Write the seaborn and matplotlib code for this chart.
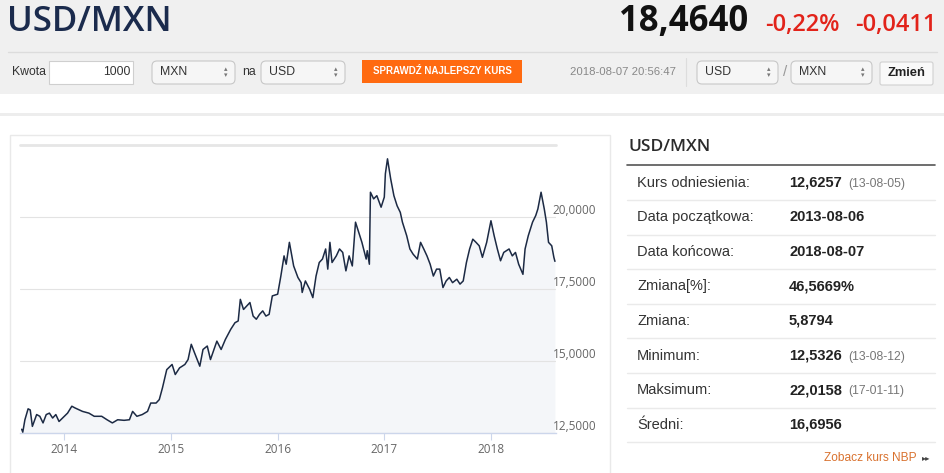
import pandas as pd
import matplotlib.pyplot as plt
import seaborn as sns
from matplotlib.patches import Rectangle, FancyBboxPatch
from matplotlib import transforms

sns.set_theme(style="white")
plt.rcParams['font.family'] = ['Liberation Sans', 'DejaVu Sans']

# kurs USD/MXN (rok dziesietny, kurs)
years = [
    2013.60, 2013.61, 2013.63, 2013.66, 2013.68, 2013.70, 2013.74, 2013.77, 2013.80, 2013.83, 2013.86, 2013.89, 2013.92, 2013.95,
    2014.00, 2014.03, 2014.07, 2014.10, 2014.17, 2014.23, 2014.28, 2014.35, 2014.40, 2014.45, 2014.50, 2014.56, 2014.61, 2014.64,
    2014.68, 2014.73, 2014.78, 2014.81, 2014.86, 2014.89, 2014.92, 2014.96,
    2015.01, 2015.04, 2015.08, 2015.13, 2015.16, 2015.19, 2015.22, 2015.27, 2015.30, 2015.34, 2015.37, 2015.43, 2015.47, 2015.51,
    2015.56, 2015.60, 2015.63, 2015.65, 2015.68, 2015.71, 2015.74, 2015.77, 2015.80, 2015.83, 2015.86, 2015.89, 2015.92, 2015.95,
    2016.00, 2016.03, 2016.06, 2016.08, 2016.11, 2016.15, 2016.19, 2016.22, 2016.23, 2016.26, 2016.30, 2016.33, 2016.36, 2016.39,
    2016.42, 2016.45, 2016.47, 2016.49, 2016.51, 2016.55, 2016.58, 2016.61, 2016.64, 2016.67, 2016.70, 2016.73, 2016.76, 2016.79,
    2016.83, 2016.84, 2016.86, 2016.87, 2016.90, 2016.93, 2016.97,
    2017.00, 2017.01, 2017.03, 2017.06, 2017.09, 2017.12, 2017.15, 2017.17, 2017.21, 2017.24, 2017.27, 2017.31, 2017.34, 2017.37,
    2017.40, 2017.43, 2017.46, 2017.49, 2017.52, 2017.55, 2017.58, 2017.61, 2017.64, 2017.68, 2017.71, 2017.74, 2017.77, 2017.80,
    2017.83, 2017.86, 2017.89, 2017.92, 2017.96,
    2018.00, 2018.03, 2018.06, 2018.09, 2018.12, 2018.17, 2018.20, 2018.23, 2018.26, 2018.30, 2018.32, 2018.35, 2018.39, 2018.42,
    2018.44, 2018.47, 2018.50, 2018.52, 2018.54, 2018.57, 2018.59, 2018.60,
]
rates = [
    12.63, 12.53, 12.96, 13.34, 13.30, 12.73, 13.14, 13.08, 12.85, 13.14, 13.19, 13.02, 13.14, 12.90,
    13.08, 13.19, 13.43, 13.37, 13.25, 13.19, 13.08, 13.08, 12.96, 12.85, 12.96, 12.94, 12.96, 13.25,
    13.08, 13.14, 13.25, 13.54, 13.54, 13.66, 14.07, 14.70,
    14.88, 14.53, 14.76, 14.88, 15.05, 15.58, 15.29, 14.82, 15.40, 15.52, 15.05, 15.69, 15.40, 15.75,
    16.10, 16.33, 16.39, 17.14, 16.79, 16.91, 17.03, 16.56, 16.45, 16.62, 16.74, 16.56, 16.62, 17.26,
    17.32, 17.95, 18.65, 18.36, 19.12, 18.30, 17.90, 17.72, 17.38, 17.78, 17.49, 17.20, 17.95, 18.42,
    18.54, 18.89, 18.19, 19.12, 18.42, 18.65, 18.89, 18.77, 18.13, 18.65, 18.30, 19.82, 19.47, 19.12,
    18.54, 18.83, 18.36, 20.86, 20.63, 20.74, 20.34,
    20.69, 21.50, 22.02, 21.32, 20.74, 20.39, 20.16, 19.82, 19.35, 18.89, 18.71, 18.54, 19.12, 18.89,
    18.65, 18.36, 17.95, 18.19, 18.19, 17.55, 17.78, 17.90, 17.72, 17.84, 17.67, 17.78, 18.42, 18.89,
    19.23, 19.12, 19.00, 18.60, 19.12,
    19.87, 19.35, 18.89, 18.48, 18.77, 18.89, 18.65, 18.77, 18.36, 18.01, 18.89, 19.35, 19.82, 20.05,
    20.28, 20.86, 20.28, 19.82, 19.12, 19.00, 18.60, 18.46,
]
df = pd.DataFrame({"rok": years, "kurs": rates})

y_ticks = [12.5, 15.0, 17.5, 20.0, 22.5]
y_tick_labels = ["12,5000", "15,0000", "17,5000", "20,0000", ""]
x_ticks = [2014, 2015, 2016, 2017, 2018]
x_tick_labels = ["2014", "2015", "2016", "2017", "2018"]

pair = "USD/MXN"
last_rate = "18,4640"
change_pct = "-0,22%"
change_abs = "-0,0411"
timestamp = "2018-08-07 20:56:47"

stat_labels = ["Kurs odniesienia:", "Data początkowa:", "Data końcowa:", "Zmiana[%]:",
               "Zmiana:", "Minimum:", "Maksimum:", "Średni:"]
stat_values = ["12,6257", "2013-08-06", "2018-08-07", "46,5669%",
               "5,8794", "12,5326", "22,0158", "16,6956"]
stat_dates = ["(13-08-05)", "", "", "", "", "(13-08-12)", "(17-01-11)", ""]

OPEN = ['Open Sans', 'DejaVu Sans']

fig = plt.figure(figsize=(9.45, 4.73), dpi=100)

# tlo strony (wspolrzedne w pikselach)
bg = fig.add_axes([0, 0, 1, 1])
bg.set_xlim(0, 945)
bg.set_ylim(473, 0)
bg.axis('off')

bg.add_patch(Rectangle((0, 0), 945, 94, color="#f0f0f0", lw=0))
bg.plot([8, 937], [52, 52], color="#dcdcdc", lw=1)
bg.add_patch(Rectangle((0, 113), 945, 3, color="#ededed", lw=0))

bg.text(7, 22, pair, fontsize=25, fontweight='semibold', color="#1b2b4d", family=OPEN, va='center')
bg.text(748, 22, last_rate, fontsize=25, fontweight='bold', color="#111111", family=OPEN,
        ha='right', va='center')
bg.text(765, 25, change_pct, fontsize=17, fontweight='semibold', color="#e2231a", family=OPEN, va='center')
bg.text(855, 25, change_abs, fontsize=17, fontweight='semibold', color="#e2231a", family=OPEN, va='center')

# pasek z kontrolkami
cy = 72
bg.text(12, cy, "Kwota", fontsize=8.8, color="#333333", va='center')
bg.add_patch(Rectangle((49, 61), 84, 23, fc="white", ec="#cfcfcf", lw=0.8))
bg.text(130, cy, "1000", fontsize=8.8, color="#333333", ha='right', va='center')


def select_box(x, w, label):
    bg.add_patch(FancyBboxPatch((x, 61), w, 23, boxstyle="round,pad=0,rounding_size=5",
                                fc="#f6f6f6", ec="#c8c8c8", lw=0.8))
    bg.text(x + 8, cy, label, fontsize=8.8, color="#333333", va='center')
    bg.text(x + w - 9, cy - 3, "\u25B4", fontsize=5, color="#777777", ha='center', va='center',
            family=['DejaVu Sans'])
    bg.text(x + w - 9, cy + 3, "\u25BE", fontsize=5, color="#777777", ha='center', va='center',
            family=['DejaVu Sans'])


select_box(152, 83, "MXN")
bg.text(242, cy, "na", fontsize=8.8, color="#333333", va='center')
select_box(261, 84, "USD")

bg.add_patch(Rectangle((362, 60), 160, 23, fc="#ff6a10", lw=0))
bg.text(442, 71.5, "SPRAWDŹ NAJLEPSZY KURS", fontsize=7, fontweight='bold', color="white",
        ha='center', va='center')

bg.text(570, cy, timestamp, fontsize=8.2, color="#888888", va='center')
bg.plot([686, 686], [58, 86], color="#dddddd", lw=0.8)
select_box(697, 81, "USD")
bg.text(785, cy, "/", fontsize=11, color="#999999", ha='center', va='center')
select_box(791, 81, "MXN")
bg.add_patch(FancyBboxPatch((880, 62), 53, 23, boxstyle="round,pad=0,rounding_size=2",
                            fc="#f9f9f9", ec="#d0d0d0", lw=0.8))
bg.text(906.5, 73.5, "Zmień", fontsize=9.3, fontweight='bold', color="#222222",
        ha='center', va='center')

# ramka panelu z wykresem
bg.add_patch(Rectangle((10, 135), 600, 345, fill=False, ec="#e9e9e9", lw=1))

# tabela statystyk
bg.text(628, 147, pair, fontsize=12.5, fontweight='semibold', color="#2b2b2b", family=OPEN, va='center')
bg.plot([627, 935], [165, 165], color="#555555", lw=1.2)
for i, (lab, val, dt) in enumerate(zip(stat_labels, stat_values, stat_dates)):
    ry = 182.5 + 34.6 * i
    bg.text(637, ry, lab, fontsize=10.5, color="#333333", va='center')
    bg.text(789, ry, val, fontsize=10.5, fontweight='bold', color="#222222", va='center')
    if dt:
        bg.text(848, ry + 1, dt, fontsize=8.8, color="#777777", va='center')
    bg.plot([627, 935], [200 + 34.6 * i] * 2, color="#eaeaea", lw=1)

bg.text(917, 458, "Zobacz kurs NBP", fontsize=8.6, color="#d9722f", ha='right', va='center')
bg.text(922, 458, "\u25B8\u25B8", fontsize=6, color="#444444", va='center', family=['DejaVu Sans'])

# wykres kursu
ax = fig.add_axes([20 / 945, (473 - 433) / 473, 536 / 945, 288 / 473])
ax.set_facecolor("white")
ax.fill_between(df["rok"], df["kurs"], 12.5, color="#f4f6f9", lw=0, zorder=1)
sns.lineplot(data=df, x="rok", y="kurs", ax=ax, color="#1c2a44", linewidth=1.1,
             estimator=None, sort=False, zorder=3)

ax.set_xlim(2013.584, 2018.61)
ax.set_ylim(12.5, 22.5)
ax.set_axisbelow('line')
ax.set_yticks(y_ticks)
ax.set_yticklabels([])
ax.grid(axis='y', color="#e3e3e3", lw=0.8)
ax.axhline(22.5, color="#e6e6e6", lw=2, clip_on=False, zorder=2)

ax.set_xticks(x_ticks)
ax.set_xticklabels(x_tick_labels, fontsize=8.5, color="#666666", family=OPEN)
ax.tick_params(axis='x', bottom=True, length=5, width=0.8, color="#ccd6eb", pad=2.5)
ax.tick_params(axis='y', left=False, length=0)
ax.set_xlabel("")
ax.set_ylabel("")

sns.despine(ax=ax, left=True, right=True, top=True)
ax.spines['bottom'].set_color("#ccd6eb")
ax.spines['bottom'].set_linewidth(1)

lab_trans = transforms.offset_copy(
    transforms.blended_transform_factory(ax.transAxes, ax.transData), fig=fig, y=7, units='dots')
for v, lab in zip(y_ticks, y_tick_labels):
    ax.text(0.994, v, lab, transform=lab_trans, fontsize=8.5, color="#666666", family=OPEN,
            ha='left', va='center', clip_on=False)

fig.savefig("out.png", dpi=100)
